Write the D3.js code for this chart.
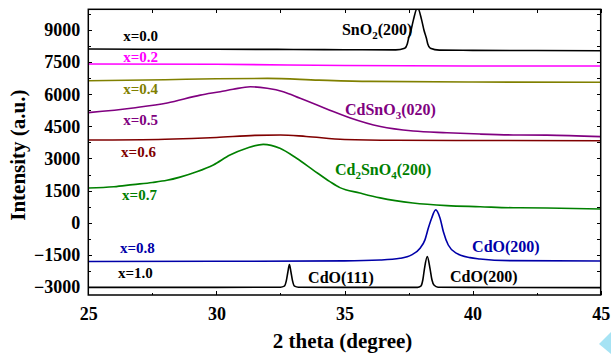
<!DOCTYPE html>
<meta charset="utf-8">
<style>
body { margin: 0; background: #fff; }
svg { font-family: "Liberation Serif", "Times New Roman", serif; font-weight: bold; }
.axis path, .axis line { stroke: #000; shape-rendering: crispEdges; }
.axis text { font-size: 18px; font-family: "Liberation Serif", serif; font-weight: bold; fill: #000; }
.curve { fill: none; stroke-width: 1.6; }
</style>
<svg class="chart" width="611" height="354"></svg>
<script src="https://d3js.org/d3.v7.min.js"></script>
<script>

// series: 2 theta (deg) and intensity (a.u., already offset)
var deg00 = [25, 27, 30, 33, 35, 37, 37.35, 37.45, 37.5, 37.6, 37.69, 37.85, 38.01, 38.1, 38.2, 38.25, 38.35, 38.7, 40, 42.5, 45];
var int00 = [8110, 8100, 8100, 8090, 8080, 8070, 8150, 8350, 8600, 9000, 9470, 10050, 9470, 9000, 8600, 8350, 8150, 8060, 8050, 8040, 8030];
var deg02 = [25, 30, 35, 40, 45];
var int02 = [7410, 7400, 7340, 7320, 7320];
var deg04 = [25, 28, 30, 32, 34, 36, 40, 45];
var int04 = [6630, 6680, 6720, 6740, 6660, 6600, 6570, 6560];
var deg05 = [25, 26.75, 28.08, 29.37, 30.15, 30.65, 31.32, 31.98, 32.61, 33.27, 33.93, 34.56, 35.23, 36.4, 37.68, 39.0, 40.29, 41.58, 42.9, 45];
var int05 = [5140, 5360, 5590, 5960, 6120, 6230, 6350, 6280, 6120, 5810, 5500, 5190, 4890, 4490, 4280, 4200, 4140, 4100, 4090, 4020];
var deg06 = [25, 28, 30, 31.5, 32.5, 33.5, 35, 37, 40, 45];
var int06 = [3860, 3900, 3980, 4080, 4100, 4030, 3890, 3850, 3840, 3830];
var deg07 = [25, 26, 26.74, 27.5, 28.07, 28.58, 29.23, 29.88, 30.53, 31.18, 31.83, 32.48, 33.13, 33.78, 34.43, 34.82, 35.6, 36.39, 37.67, 39.0, 40.29, 41.58, 42.9, 45];
var int07 = [1620, 1680, 1780, 1880, 1980, 2130, 2380, 2700, 3160, 3480, 3660, 3480, 3010, 2460, 1920, 1640, 1390, 1160, 920, 800, 750, 700, 690, 640];
var deg08 = [25, 30, 35, 36.39, 37.17, 37.62, 37.95, 38.14, 38.27, 38.40, 38.56, 38.73, 38.86, 39.05, 39.38, 39.9, 40.29, 41.5, 45];
var int08 = [-1810, -1800, -1780, -1740, -1660, -1500, -1190, -800, -260, 210, 600, 210, -420, -1040, -1430, -1630, -1690, -1770, -1790];
var deg10 = [25, 30, 32.5, 32.65, 32.73, 32.79, 32.85, 32.91, 32.97, 33.05, 33.2, 35, 37.85, 37.98, 38.06, 38.12, 38.23, 38.34, 38.41, 38.5, 38.65, 40, 45];
var int10 = [-3020, -3020, -3010, -2960, -2700, -2300, -1950, -2300, -2700, -2960, -3010, -3020, -3020, -2960, -2650, -2150, -1580, -2150, -2650, -2920, -3010, -3020, -3030];

var seriesNames = ["x=0.0", "x=0.2", "x=0.4", "x=0.5", "x=0.6", "x=0.7", "x=0.8", "x=1.0"];
var seriesColors = ["#000000", "#ff00ff", "#808000", "#800080", "#800000", "#008000", "#0000a8", "#000000"];
var seriesDeg = [deg00, deg02, deg04, deg05, deg06, deg07, deg08, deg10];
var seriesInt = [int00, int02, int04, int05, int06, int07, int08, int10];
// label anchor (deg, intensity) for each x= label
var labelDeg = [26.36, 26.36, 26.36, 26.36, 26.28, 26.32, 26.24, 26.16];
var labelInt = [8486, 7506, 6012, 4564, 3070, 1062, -1412, -2579];

var xTicks = [25, 30, 35, 40, 45];
var yTicks = [-3000, -1500, 0, 1500, 3000, 4500, 6000, 7500, 9000];

// peak annotations
var annText = ["SnO|2|(200)", "CdSnO|3|(020)", "Cd|2|SnO|4|(200)", "CdO(200)", "CdO(111)", "CdO(200)"];
var annDeg = [34.9, 35.02, 34.63, 39.98, 33.58, 39.12];
var annInt = [8767, 5031, 2230, -1365, -2813, -2766];
var annColor = ["#000000", "#800080", "#008000", "#0000a8", "#000000", "#000000"];

var svg = d3.select(".chart");
var pLeft = 88.3, pRight = 600.7, pTop = 9.3, pBottom = 295;

var x = d3.scaleLinear().domain([25, 45]).range([pLeft, pRight]);
var y = d3.scaleLinear().domain([-3374, 9966]).range([pBottom, pTop]);

svg.append("defs").append("clipPath").attr("id", "clip")
  .append("rect").attr("x", pLeft).attr("y", pTop).attr("width", pRight - pLeft).attr("height", pBottom - pTop);

var line = d3.line()
  .x(function(d) { return x(d[0]); })
  .y(function(d) { return y(d[1]); })
  .curve(d3.curveMonotoneX);

var plot = svg.append("g").attr("clip-path", "url(#clip)");
seriesDeg.forEach(function(xs, i) {
  plot.append("path")
    .attr("class", "curve")
    .attr("stroke", seriesColors[i])
    .attr("d", line(xs.map(function(v, j) { return [v, seriesInt[i][j]]; })));
});

svg.selectAll(".slabel")
  .data(seriesNames)
  .enter().append("text")
  .attr("class", "slabel")
  .attr("x", function(d, i) { return x(labelDeg[i]); })
  .attr("y", function(d, i) { return y(labelInt[i]); })
  .attr("fill", function(d, i) { return seriesColors[i]; })
  .style("font-size", "15px")
  .text(function(d) { return d; });

annText.forEach(function(t, i) {
  var txt = svg.append("text")
    .attr("x", x(annDeg[i]))
    .attr("y", y(annInt[i]))
    .attr("fill", annColor[i])
    .style("font-size", "16px");
  t.split("|").forEach(function(part, k) {
    var sp = txt.append("tspan").text(part);
    if (k % 2 == 1) sp.attr("dy", 4).style("font-size", "11px");
    else if (k > 0) sp.attr("dy", -4);
  });
});

// axes, ticks inward
var xMinor = d3.range(27.5, 45, 5);
var yMinor = d3.range(-2250, 9751, 1500);

svg.append("g").attr("class", "axis")
  .attr("transform", "translate(0," + pBottom + ")")
  .call(d3.axisBottom(x).tickValues(xTicks).tickSizeInner(-4).tickSizeOuter(0).tickPadding(12));
svg.append("g").attr("class", "axis")
  .attr("transform", "translate(0," + pBottom + ")")
  .call(d3.axisBottom(x).tickValues(xMinor).tickSizeInner(-2.5).tickSizeOuter(0).tickFormat(""));
svg.append("g").attr("class", "axis")
  .attr("transform", "translate(0," + pTop + ")")
  .call(d3.axisTop(x).tickValues(xTicks.concat(xMinor)).tickSizeInner(-4).tickSizeOuter(0).tickFormat(""));

svg.append("g").attr("class", "axis")
  .attr("transform", "translate(" + pLeft + ",0)")
  .call(d3.axisLeft(y).tickValues(yTicks).tickSizeInner(-4).tickSizeOuter(0).tickPadding(8).tickFormat(d3.format("d")));
svg.append("g").attr("class", "axis")
  .attr("transform", "translate(" + pLeft + ",0)")
  .call(d3.axisLeft(y).tickValues(yMinor).tickSizeInner(-2.5).tickSizeOuter(0).tickFormat(""));
svg.append("g").attr("class", "axis")
  .attr("transform", "translate(" + pRight + ",0)")
  .call(d3.axisRight(y).tickValues(yTicks.concat(yMinor)).tickSizeInner(-4).tickSizeOuter(0).tickFormat(""));

svg.selectAll(".axis .domain").remove();
svg.append("rect")
  .attr("x", pLeft).attr("y", pTop).attr("width", pRight - pLeft).attr("height", pBottom - pTop)
  .attr("fill", "none").attr("stroke", "#000").attr("stroke-width", 1.5);

svg.append("text")
  .attr("x", (pLeft + pRight) / 2 - 2)
  .attr("y", 348)
  .attr("text-anchor", "middle")
  .style("font-size", "21px")
  .text("2 theta (degree)");

svg.append("text")
  .attr("transform", "translate(25," + ((pTop + pBottom) / 2 + 3) + ") rotate(-90)")
  .attr("text-anchor", "middle")
  .style("font-size", "21px")
  .text("Intensity (a.u.)");

// small cyan mark in the corner
svg.append("path")
  .attr("d", "M599,344 L611,332 L611,354 Z")
  .attr("fill", "#a6e3f4");

</script>
